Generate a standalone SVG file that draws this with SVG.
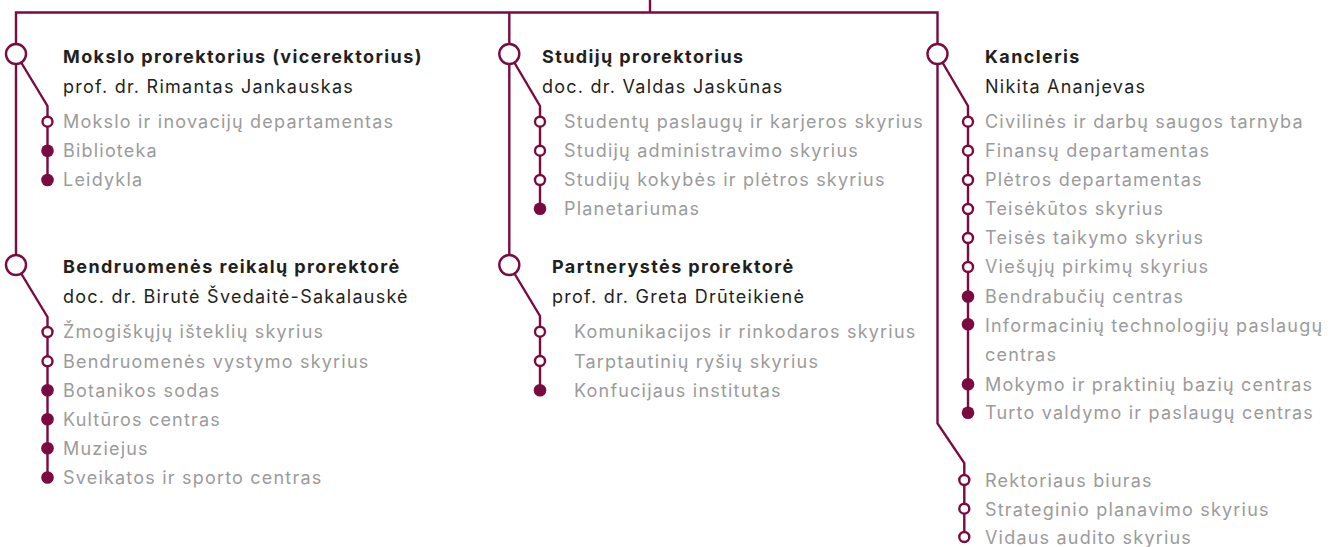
<svg xmlns="http://www.w3.org/2000/svg" width="1339" height="547" viewBox="0 0 1339 547">
<style>
.ln{fill:none;stroke:#7a0a40;stroke-width:2.4;stroke-linejoin:miter}
.big{fill:#fff;stroke:#7a0a40;stroke-width:2.4}
.op{fill:#fff;stroke:#7a0a40;stroke-width:2.4}
.fl{fill:#7a0a40}
text{font-family:Inter,"Noto Sans","Liberation Sans",sans-serif;font-size:18px;letter-spacing:1.2px}
.t{font-weight:700;fill:#231f20;letter-spacing:1.4px}
.n{fill:#231f20;letter-spacing:1.25px}
.i{fill:#9b9b9b}
</style>
<rect width="1339" height="547" fill="#fff"/>
<g id="connectors">
<path class="ln" d="M650 0V12.5M16 265V12.5H937.5V423.5L964.3 463V537"/>
<path class="ln" d="M509.3 12.5V265"/>
<path class="ln" d="M16 54L47.5 106V180"/>
<path class="ln" d="M16 265L47.5 317V478"/>
<path class="ln" d="M509.3 54L540 106V209"/>
<path class="ln" d="M509.3 265L540 316V391"/>
<path class="ln" d="M937.5 54L968 106V413"/>
</g>
<g id="node-mokslo">
<circle class="big" cx="16" cy="54" r="10"/>
<text class="t" x="63" y="63">Mokslo prorektorius (vicerektorius)</text>
<text class="n" x="63" y="92.7">prof. dr. Rimantas Jankauskas</text>
</g>
<g id="node-mokslo-items">
<circle class="op" cx="47.5" cy="121.7" r="5"/><text class="i" x="63" y="128.3">Mokslo ir inovacijų departamentas</text>
<circle class="fl" cx="47.5" cy="150.7" r="6.3"/><text class="i" x="63" y="157.3">Biblioteka</text>
<circle class="fl" cx="47.5" cy="180" r="6.3"/><text class="i" x="63" y="186.3">Leidykla</text>
</g>
<g id="node-bendruomenes">
<circle class="big" cx="16" cy="265" r="10"/>
<text class="t" x="63" y="273.3">Bendruomenės reikalų prorektorė</text>
<text class="n" x="63" y="303.3">doc. dr. Birutė Švedaitė-Sakalauskė</text>
</g>
<g id="node-bendruomenes-items">
<circle class="op" cx="47.5" cy="332" r="5"/><text class="i" x="63" y="338.3">Žmogiškųjų išteklių skyrius</text>
<circle class="op" cx="47.5" cy="361.3" r="5"/><text class="i" x="63" y="367.7">Bendruomenės vystymo skyrius</text>
<circle class="fl" cx="47.5" cy="390.3" r="6.3"/><text class="i" x="63" y="397">Botanikos sodas</text>
<circle class="fl" cx="47.5" cy="419.3" r="6.3"/><text class="i" x="63" y="426">Kultūros centras</text>
<circle class="fl" cx="47.5" cy="448.3" r="6.3"/><text class="i" x="63" y="455">Muziejus</text>
<circle class="fl" cx="47.5" cy="477.5" r="6.3"/><text class="i" x="63" y="484">Sveikatos ir sporto centras</text>
</g>
<g id="node-studiju">
<circle class="big" cx="509.3" cy="54" r="10"/>
<text class="t" x="542" y="63">Studijų prorektorius</text>
<text class="n" x="542" y="92.7">doc. dr. Valdas Jaskūnas</text>
</g>
<g id="node-studiju-items">
<circle class="op" cx="540" cy="121.7" r="5"/><text class="i" x="564" y="128.3">Studentų paslaugų ir karjeros skyrius</text>
<circle class="op" cx="540" cy="150.7" r="5"/><text class="i" x="564" y="157.3">Studijų administravimo skyrius</text>
<circle class="op" cx="540" cy="180" r="5"/><text class="i" x="564" y="186.3">Studijų kokybės ir plėtros skyrius</text>
<circle class="fl" cx="540" cy="208.7" r="6.3"/><text class="i" x="564" y="215.3">Planetariumas</text>
</g>
<g id="node-partnerystes">
<circle class="big" cx="509.3" cy="265" r="10"/>
<text class="t" x="552" y="273.3">Partnerystės prorektorė</text>
<text class="n" x="552" y="303.3">prof. dr. Greta Drūteikienė</text>
</g>
<g id="node-partnerystes-items">
<circle class="op" cx="540" cy="331.7" r="5"/><text class="i" x="574" y="338.3">Komunikacijos ir rinkodaros skyrius</text>
<circle class="op" cx="540" cy="361" r="5"/><text class="i" x="574" y="367.7">Tarptautinių ryšių skyrius</text>
<circle class="fl" cx="540" cy="390.3" r="6.3"/><text class="i" x="574" y="397">Konfucijaus institutas</text>
</g>
<g id="node-kancleris">
<circle class="big" cx="937.5" cy="54" r="10"/>
<text class="t" x="985" y="63">Kancleris</text>
<text class="n" x="985" y="92.7">Nikita Ananjevas</text>
</g>
<g id="node-kancleris-items">
<circle class="op" cx="968" cy="121.7" r="5"/><text class="i" x="985" y="128.3">Civilinės ir darbų saugos tarnyba</text>
<circle class="op" cx="968" cy="150.7" r="5"/><text class="i" x="985" y="157.3">Finansų departamentas</text>
<circle class="op" cx="968" cy="180" r="5"/><text class="i" x="985" y="186.3">Plėtros departamentas</text>
<circle class="op" cx="968" cy="209" r="5"/><text class="i" x="985" y="215.3">Teisėkūtos skyrius</text>
<circle class="op" cx="968" cy="238" r="5"/><text class="i" x="985" y="244.3">Teisės taikymo skyrius</text>
<circle class="op" cx="968" cy="267" r="5"/><text class="i" x="985" y="273.3">Viešųjų pirkimų skyrius</text>
<circle class="fl" cx="968" cy="296.5" r="6.3"/><text class="i" x="985" y="302.7">Bendrabučių centras</text>
<circle class="fl" cx="968" cy="324.3" r="6.3"/><text class="i" x="985" y="331.7">Informacinių technologijų paslaugų</text>
<text class="i" x="985" y="361.3">centras</text>
<circle class="fl" cx="968" cy="384.3" r="6.3"/><text class="i" x="985" y="390.5">Mokymo ir praktinių bazių centras</text>
<circle class="fl" cx="968" cy="412.7" r="6.3"/><text class="i" x="985" y="419.3">Turto valdymo ir paslaugų centras</text>
</g>
<g id="node-rektoriaus-items">
<circle class="op" cx="964.3" cy="480" r="5"/><text class="i" x="985" y="486.7">Rektoriaus biuras</text>
<circle class="op" cx="964.3" cy="508.7" r="5"/><text class="i" x="985" y="515.7">Strateginio planavimo skyrius</text>
<circle class="op" cx="964.3" cy="537" r="5"/><text class="i" x="985" y="544.3">Vidaus audito skyrius</text>
</g>
</svg>
